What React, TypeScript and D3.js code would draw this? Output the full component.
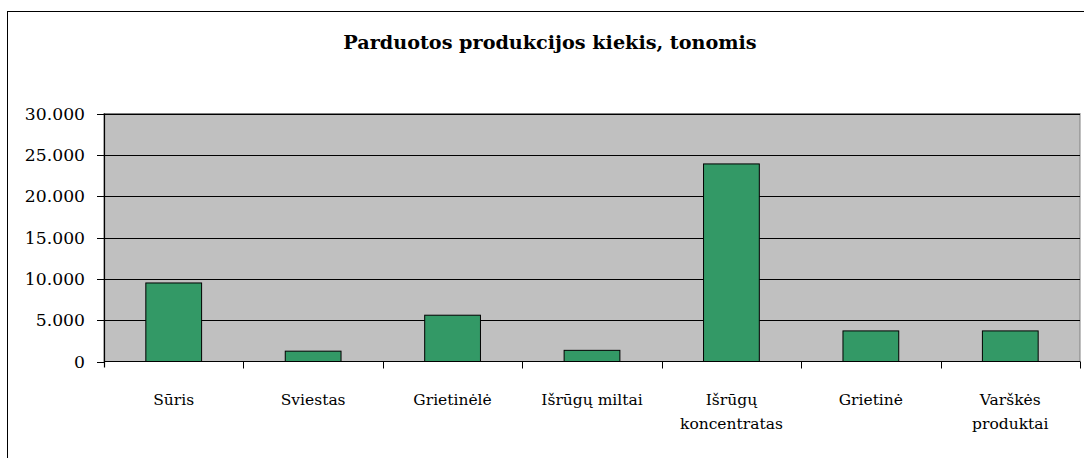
import React from "react";
import * as d3 from "d3";

const title = "Parduotos produkcijos kiekis, tonomis";
const categories: string[][] = [
  ["Sūris"],
  ["Sviestas"],
  ["Grietinėlė"],
  ["Išrūgų miltai"],
  ["Išrūgų", "koncentratas"],
  ["Grietinė"],
  ["Varškės", "produktai"],
];
const values = [9500, 1250, 5600, 1350, 23900, 3700, 3700];
const yTicks = [0, 5000, 10000, 15000, 20000, 25000, 30000];
const yTickLabels = ["0", "5.000", "10.000", "15.000", "20.000", "25.000", "30.000"];

const W = 1084;
const H = 458;
const left = 104;
const right = 1080;
const top = 113.5;
const bottom = 361.5;
const FONT = "'DejaVu Serif', serif";

export default function App() {
  const idx = categories.map((_, i) => String(i));
  const x = d3.scaleBand<string>().domain(idx).range([left, right]).paddingInner(0.6).paddingOuter(0.3);
  const xb = d3.scaleBand<string>().domain(idx).range([left, right]);
  const y = d3.scaleLinear().domain([0, 30000]).range([bottom, top]);

  return (
    <svg
      width={W}
      height={H}
      style={{ position: "absolute", left: 0, top: 0, background: "#fff" }}
      fontFamily={FONT}
    >
      <rect x={7.5} y={11.5} width={1100} height={500} fill="#fff" stroke="#000" strokeWidth={1} />
      <text x={550} y={49} textAnchor="middle" fontSize={19.2} fontWeight="bold" fill="#000">
        {title}
      </text>
      <rect x={left} y={top} width={right - left} height={bottom - top} fill="#c0c0c0" stroke="#808080" strokeWidth={1} />
      {yTicks.slice(1).map((t) => (
        <line key={t} x1={left} x2={right} y1={Math.round(y(t)) + 0.5} y2={Math.round(y(t)) + 0.5} stroke="#000" strokeWidth={1} />
      ))}
      {values.map((v, i) => (
        <rect
          key={i}
          x={x(String(i))!}
          y={y(v)}
          width={x.bandwidth()}
          height={y(0) - y(v)}
          fill="#339966"
          stroke="#000"
          strokeWidth={1}
        />
      ))}
      <line x1={left + 0.5} x2={left + 0.5} y1={top} y2={bottom + 6} stroke="#000" strokeWidth={1.2} />
      <line x1={left} x2={right} y1={bottom} y2={bottom} stroke="#000" strokeWidth={1.2} />
      {yTicks.map((t, i) => (
        <g key={t}>
          <line x1={97} x2={left} y1={Math.round(y(t)) + 0.5} y2={Math.round(y(t)) + 0.5} stroke="#000" />
          <text x={85} y={y(t)} dy="0.36em" textAnchor="end" fontSize={17.2} fill="#000">
            {yTickLabels[i]}
          </text>
        </g>
      ))}
      {categories.map((c, i) => {
        const x0 = xb(String(i))!;
        return (
          <g key={i}>
            <line x1={Math.round(x0 + xb.bandwidth()) + 0.5} x2={Math.round(x0 + xb.bandwidth()) + 0.5} y1={bottom} y2={bottom + 7} stroke="#000" />
            {c.map((line, j) => (
              <text key={j} x={x0 + xb.bandwidth() / 2} y={405 + j * 24} textAnchor="middle" fontSize={15.5} fill="#000">
                {line}
              </text>
            ))}
          </g>
        );
      })}
    </svg>
  );
}
